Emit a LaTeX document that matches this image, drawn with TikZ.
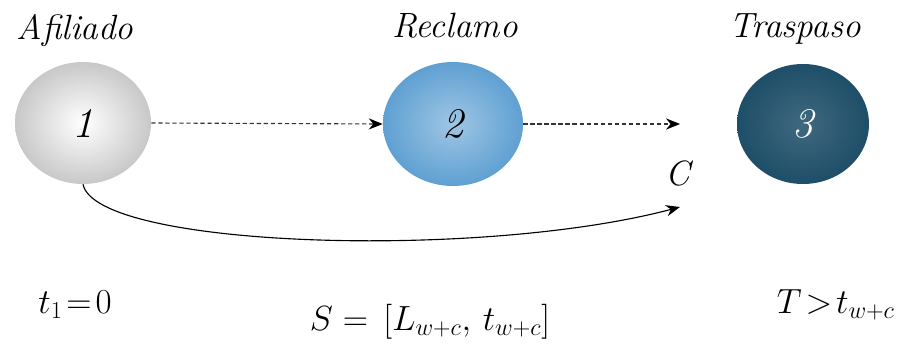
\documentclass[tikz,border=0pt]{standalone}
\usepackage{fontspec}
\usetikzlibrary{arrows.meta, shapes.geometric}

\definecolor{stategray}{RGB}{200,200,200}
\definecolor{stateblue}{RGB}{95,160,210}
\definecolor{statedark}{RGB}{30,78,104}

\tikzset{
    state/.style={ellipse, minimum width=3.4cm, minimum height=3.05cm, inner sep=0pt, font=\fontsize{30}{32}\selectfont\itshape},
    label text/.style={font=\fontsize{25}{27}\selectfont\itshape},
    time text/.style={font=\fontsize{23}{25}\selectfont},
    flow/.style={densely dashed, thick, gray!40!black, -{Stealth[length=3.5mm, width=2.8mm, black]}},
    jump/.style={thick, black, -{Stealth[length=3.5mm, width=2.8mm]}}
}

\begin{document}
\begin{tikzpicture}[x=1cm, y=1cm]
    \useasboundingbox (0,0) rectangle (23,8.6);

    % States
    \node[state, inner color=white, outer color=stategray] (afil) at (2.075,5.525) {1};
    \node[state, minimum width=3.5cm, minimum height=3.1cm, inner color=stateblue!60!white, outer color=stateblue] (recl) at (11.325,5.5) {2};
    \node[state, minimum width=3.3cm, minimum height=3.0cm, inner color=statedark!85!white, outer color=statedark, text=white] (tras) at (20.075,5.5) {3};

    % State titles
    \node[label text, anchor=base] (afiltitle) at (1.875,7.6) {Afiliado};
    \node[label text, anchor=base] (recltitle) at (11.375,7.65) {Reclamo};
    \node[label text, anchor=base] (trastitle) at (19.875,7.65) {Traspaso};

    % Open ends of the arrows
    \coordinate (flowend) at (17.0,5.5);
    \coordinate (jumpend) at (17.0,3.425);
    \node[label text] (cost) at (16.95,4.275) {C};

    % Arrows
    \draw[flow] (afil.east) -- (recl.west);
    \draw[flow] (recl.east) -- (flowend);
    \draw[jump] (afil.south) .. controls (2.4,2.4) and (12,2.1) .. (jumpend);

    % Times
    \node[time text] (tone) at (1.875,0.975) {$t_1\!=\!0$};
    \node[time text] (sint) at (10.75,0.55) {$S=\,[L_{w+c},\,t_{w+c}]$};
    \node[time text, anchor=west] (tbig) at (19.3,0.975) {$T\!>\!t_{w+c}$};
\end{tikzpicture}
\end{document}
